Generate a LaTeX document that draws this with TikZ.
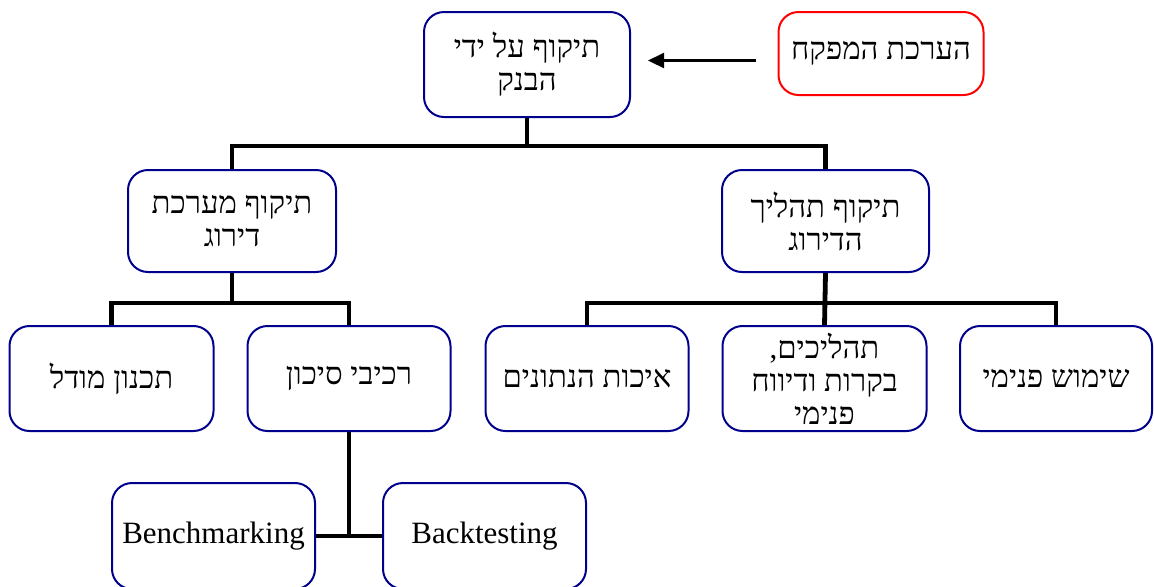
\documentclass[tikz,border=0pt]{standalone}
\usepackage{fontspec}
\setmainfont{Liberation Serif}
\newfontfamily\hebfont[Script=Hebrew]{Liberation Serif}
\TeXXeTstate=1
\usetikzlibrary{arrows.meta}
\newcommand\heb[1]{\beginR #1\endR}
\definecolor{boxblue}{RGB}{0,0,140}
\definecolor{boxred}{RGB}{255,0,0}
\tikzset{
  box/.style={draw=boxblue, line width=1pt, rounded corners=10pt, fill=white,
    align=center, font=\hebfont\fontsize{15.5}{16.5}\selectfont, inner sep=0pt,
    minimum width=102pt, minimum height=52.5pt},
  redbox/.style={box, draw=boxred},
  link/.style={line width=2.4pt, black},
  pointer/.style={line width=1.1pt, black, -{Triangle[length=8pt,width=7.5pt]}},
}
\begin{document}
\begin{tikzpicture}[x=0.5pt,y=-0.5pt]
\useasboundingbox (0,0) rectangle (1154,586);
% boxes
\node[box, minimum width=103pt] (bank) at (527,64.5) {\heb{תיקוף על ידי}\\\heb{הבנק}};
\node[redbox, minimum width=102.5pt, minimum height=41.5pt] (sup) at (881,53.5) {\heb{הערכת המפקח}};
\node[box, minimum width=104pt, minimum height=51pt] (l2a) at (232,221) {\heb{תיקוף מערכת}\\\heb{דירוג}};
\node[box, minimum width=103.5pt, minimum height=51pt] (l2b) at (825.5,221) {\heb{תיקוף תהליך}\\\heb{הדירוג}};
\node[box, minimum width=102pt] (l3a) at (111.5,378.5) {\heb{תכנון מודל}};
\node[box, minimum width=101.5pt] (l3b) at (349,378.5) {\heb{רכיבי סיכון}};
\node[box, minimum width=101.5pt] (l3c) at (587,378.5) {\heb{איכות הנתונים}};
\node[box, minimum width=102pt] (l3d) at (824.5,378.5) {\heb{תהליכים,}\\\heb{בקרות ודיווח}\\\heb{פנימי}};
\node[box, minimum width=96pt] (l3e) at (1056,378.5) {\heb{שימוש פנימי}};
\node[box, minimum width=101.5pt, minimum height=53pt, font=\fontsize{15.5}{16}\selectfont] (b1) at (213.5,536) {Benchmarking};
\node[box, minimum width=101.5pt, minimum height=53pt, font=\fontsize{15.5}{16}\selectfont] (b2) at (484.5,536) {Backtesting};
% arrow
\coordinate (as) at (756,60.5);
\coordinate (ae) at (648,60.5);
\draw[pointer] (as) -- (ae);
% tree connectors
\coordinate (bar1) at (527,146);
\coordinate (bar2) at (232,303);
\coordinate (bar3) at (825.5,303);
\coordinate (j) at (349,536);
\draw[link] (bank.south) -- (bar1);
\draw[link] (l2a.north) |- (bar1) -| (l2b.north);
\draw[link] (l2a.south) -- (bar2);
\draw[link] (l3a.north) |- (bar2) -| (l3b.north);
\draw[link] (l2b.south) -- (l3d.north);
\draw[link] (l3c.north) |- (bar3) -| (l3e.north);
\draw[link] (l3b.south) -- (j);
\draw[link] (b1.east) -- (b2.west);
\end{tikzpicture}
\end{document}
